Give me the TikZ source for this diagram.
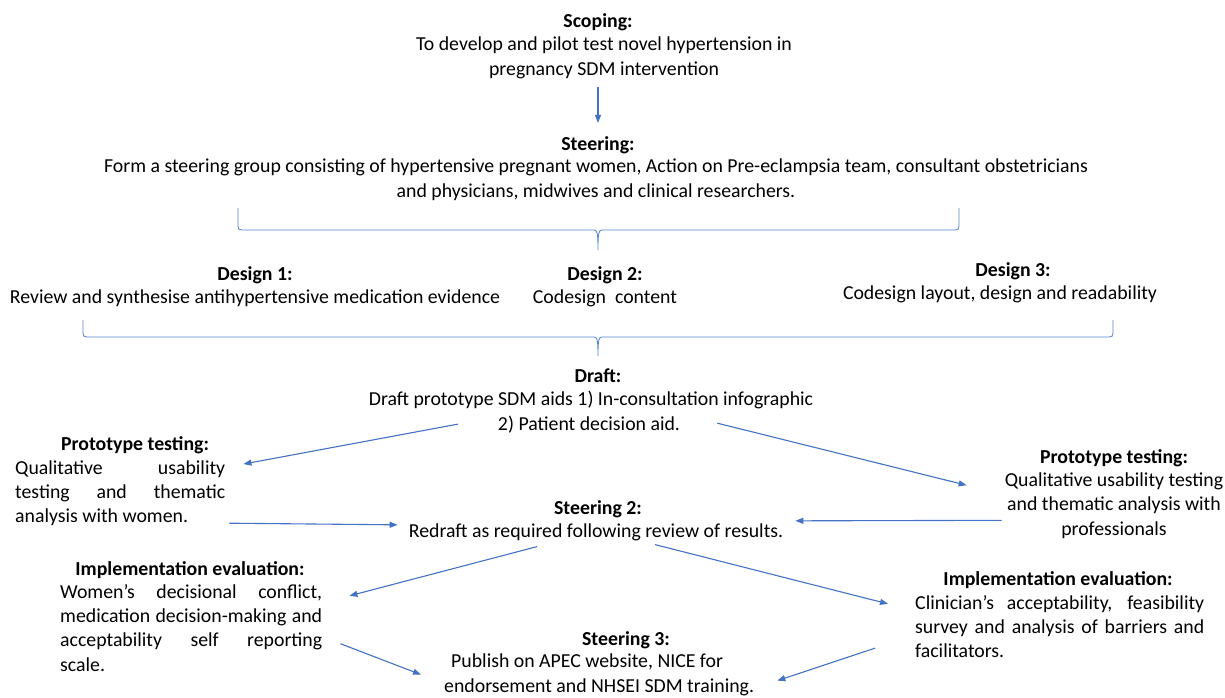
\documentclass[tikz,border=0pt]{standalone}
\usepackage{fontspec}
\setmainfont{Carlito}
\usetikzlibrary{arrows.meta}
\definecolor{arrblue}{HTML}{4472C4}
\definecolor{braceblue}{HTML}{5585CC}
\begin{document}
\begin{tikzpicture}
[
x=1pt, y=-1pt,
every node/.style={inner sep=0pt, font=\fontsize{19.8}{24.4}\selectfont},
head/.style={font=\fontsize{19.8}{24.4}\selectfont\bfseries, anchor=base},
body/.style={align=center, anchor=base},
block/.style={align=justify, anchor=base west},
link/.style={draw=arrblue, line width=1.1pt, -{Triangle[length=8pt,width=6pt]}},
curly/.style={draw=braceblue, line width=0.8pt}
]

\path[fill=white, use as bounding box] (0,0) rectangle (1225,697);

\node[head] (scope) at (598,27) {Scoping:};
\node[body] (scopetxt) at (604,75) {To develop and pilot test novel hypertension in\\pregnancy SDM intervention};
\node[head] (steer) at (598,150) {Steering:};
\node[body] (steertxt) at (596,197) {Form a steering group consisting of hypertensive pregnant women, Action on Pre-eclampsia team, consultant obstetricians\\and physicians, midwives and clinical researchers.};

\draw[curly] (238,208) -- (238,226) .. controls (238,229) and (239,230) .. (242,230) -- (594,230)
  .. controls (597,230) and (598,232) .. (598,250) .. controls (598,232) and (599,230) .. (602,230)
  -- (955,230) .. controls (958,230) and (959,229) .. (959,226) -- (959,208);

\node[head] (des1) at (255,280) {Design 1:};
\node[body] (des1txt) at (255,303) {Review and synthesise antihypertensive medication evidence};
\node[head] (des2) at (605,280) {Design 2:};
\node[body] (des2txt) at (605,303) {Codesign\ \ content};
\node[head] (des3) at (1013,276) {Design 3:};
\node[body] (des3txt) at (1000,299) {Codesign layout, design and readability};

\draw[curly] (83,320) -- (83,333) .. controls (83,336) and (84,337) .. (87,337) -- (594,337)
  .. controls (597,337) and (598,339) .. (598,356) .. controls (598,339) and (599,337) .. (602,337)
  -- (1109,337) .. controls (1112,337) and (1113,336) .. (1113,333) -- (1113,320);

\node[head] (draft) at (598,382) {Draft:};
\node[body] (drafttxt) at (591,405) {Draft prototype SDM aids 1) In-consultation infographic};
\node[body] (draftaid) at (589,430) {2) Patient decision aid.};

\node[head] (protoL) at (135,450) {Prototype testing:};
\node[block, text width=210pt] (protoLtxt) at (15,474) {Qualitative usability\linebreak testing and thematic\linebreak analysis with women.};
\node[head] (protoR) at (1114,463) {Prototype testing:};
\node[body] (protoRtxt) at (1114,535) {Qualitative usability testing\\and thematic analysis with\\professionals};

\node[head] (steer2) at (598,514) {Steering 2:};
\node[body] (steer2txt) at (596,537) {Redraft as required following review of results.};

\node[head] (implL) at (190,575) {Implementation evaluation:};
\node[block, text width=262pt] (implLtxt) at (60,598) {Women’s decisional conflict,\linebreak medication decision-making and\linebreak acceptability self reporting\linebreak scale.};
\node[head] (implR) at (1058,585) {Implementation evaluation:};
\node[block, text width=289pt] (implRtxt) at (915,609) {Clinician’s acceptability, feasibility\linebreak survey and analysis of barriers and\linebreak facilitators.};

\node[head] (steer3) at (626,645) {Steering 3:};
\node[anchor=base west, align=left] (steer3txt) at (444,692) {\hspace*{7pt}Publish on APEC website, NICE for\\endorsement and NHSEI SDM training.};

\draw[link] ([shift={(-6,8)}]scopetxt.south) -- ([shift={(0,-13)}]steer.north);
\draw[link] ([shift={(-40,0)}]draftaid.west) -- ([shift={(18,4)}]protoLtxt.north east);
\draw[link] ([shift={(37,-1)}]draftaid.east) -- ([shift={(-38,13)}]protoRtxt.north west);
\draw[link] ([shift={(4,-3)}]protoLtxt.south east) -- ([shift={(-11,-7)}]steer2txt.west);
\draw[link] ([shift={(-3,15)}]protoRtxt.west) -- ([shift={(12,-11)}]steer2txt.east);
\draw[link] ([shift={(-59,6)}]steer2txt.south) -- ([shift={(27,12)}]implLtxt.north east);
\draw[link] ([shift={(59,4)}]steer2txt.south) -- ([shift={(-27,9)}]implRtxt.north west);
\draw[link] ([shift={(18,16)}]implLtxt.east) -- ([shift={(-23,0)}]steer3txt.west);
\draw[link] ([shift={(-40,-10)}]implRtxt.south west) -- ([shift={(23,6)}]steer3txt.east);
\end{tikzpicture}
\end{document}
